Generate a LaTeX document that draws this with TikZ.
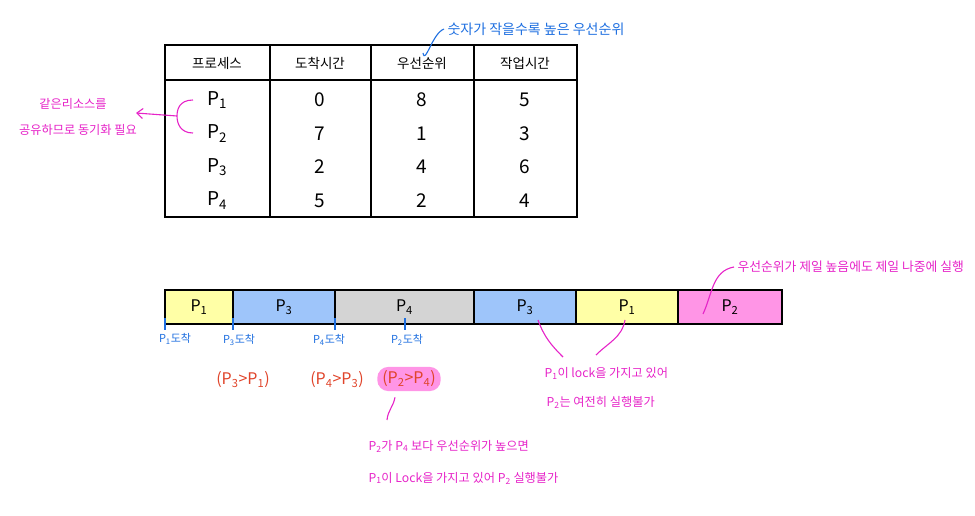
\documentclass[tikz,border=0pt]{standalone}
\usepackage{fontspec}
\newfontfamily\kr{Noto Sans CJK KR}
\usetikzlibrary{positioning,arrows.meta}
\definecolor{hlyellow}{HTML}{FFFFA6}
\definecolor{hlblue}{HTML}{9EC5FA}
\definecolor{hlgray}{HTML}{D4D4D4}
\definecolor{hlpink}{HTML}{FF95E6}
\definecolor{penmagenta}{HTML}{E623C8}
\definecolor{penblue}{HTML}{1E6FE0}
\definecolor{penred}{HTML}{E0442A}
\newcommand\Pn[1]{P\textsubscript{#1}}

\begin{document}
\begin{tikzpicture}[x=1pt, y=-1pt,
    >=latex,   % Pfeilspitzen
    font=\kr\fontsize{12}{14}\selectfont,
    head/.style={font=\kr\fontsize{13.5}{16}\selectfont},
    cell/.style={font=\kr\fontsize{19}{22}\selectfont},
    blk/.style={draw, line width=1.2pt, minimum height=34pt, inner sep=0pt, outer sep=0pt, font=\kr\fontsize{16}{18}\selectfont},
    arr/.style={text=penblue, font=\kr\fontsize{11}{13}\selectfont},
    cmp/.style={text=penred, font=\kr\fontsize{16}{18}\selectfont, inner sep=2pt},
    note/.style={text=penmagenta, font=\kr\fontsize{12.2}{15}\selectfont},
    pen/.style={line width=1.1pt}]
    \useasboundingbox (0,0) rectangle (975,516);
    % Tabelle
    \draw[line width=1.2pt] (165,45) rectangle (577,217);
    \draw[line width=1.2pt] (165,80) -- (577,80);
    \foreach \x in {270,371,474} \draw[line width=1.2pt] (\x,45) -- (\x,217);
    \node[head] (h1) at (217,63) {프로세스};
    \node[head] (h2) at (320,63) {도착시간};
    \node[head] (h3) at (422,63) {우선순위};
    \node[head] (h4) at (525,63) {작업시간};
    \foreach \p/\a/\r/\w [count=\i] in {1/0/8/5, 2/7/1/3, 3/2/4/6, 4/5/2/4} {
        \pgfmathsetmacro\y{100+(\i-1)*33.5}
        \node[cell] (p\i) at (217,\y) {\Pn{\p}};
        \node[cell] (a\i) at (320,\y) {\a};
        \node[cell] (r\i) at (422,\y) {\r};
        \node[cell] (w\i) at (525,\y) {\w};
    }
    % Hinweis oben
    \node[arr, font=\kr\fontsize{14}{16}\selectfont, anchor=west] (tip) at (444,29) {숫자가 작을수록 높은 우선순위};
    \coordinate (h3top) at (423,53);
    \draw[penblue, pen] (h3top) to[out=-80, in=200] (tip.west);
    % Hinweis links
    \node[note] (s1) at (73,104) {같은리소스를};
    \node[note] (s2) at (78,130) {공유하므로 동기화 필요};
    \coordinate (brk) at (177,116);
    \draw[penmagenta, pen] (193,100) .. controls (179,100) and (177,110) .. (brk) .. controls (177,123) and (180,133) .. (193,133);
    \draw[penmagenta, pen, -{Straight Barb[length=6pt,width=10pt]}] (brk) -- (136,113);
    % Gantt-Diagramm
    \node[blk, fill=hlyellow, minimum width=68pt, anchor=west] (g1) at (165,307) {\Pn{1}};
    \node[blk, fill=hlblue, minimum width=102pt, right=0pt of g1] (g2) {\Pn{3}};
    \node[blk, fill=hlgray, minimum width=139pt, right=0pt of g2] (g3) {\Pn{4}};
    \node[blk, fill=hlblue, minimum width=102pt, right=0pt of g3] (g4) {\Pn{3}};
    \node[blk, fill=hlyellow, minimum width=102pt, right=0pt of g4] (g5) {\Pn{1}};
    \node[blk, fill=hlpink, minimum width=104pt, right=0pt of g5] (g6) {\Pn{2}};
    % Ankunft
    \coordinate (c1) at (g1.south west);
    \coordinate (c3) at (g2.south west);
    \coordinate (c4) at (g3.south west);
    \coordinate (c2) at (405,324);
    \foreach \c in {c1,c3,c4,c2} \draw[penblue, pen] ([yshift=6pt]\c) -- ([yshift=-6pt]\c);
    \node[arr] (t1) at (175,339) {\Pn{1}도착};
    \node[arr] (t3) at (239,340) {\Pn{3}도착};
    \node[arr] (t4) at (329,340) {\Pn{4}도착};
    \node[arr] (t2) at (407,340) {\Pn{2}도착};
    % Vergleiche
    \node[cmp] (k1) at (243,380) {(\Pn{3}>\Pn{1})};
    \node[cmp] (k2) at (337,380) {(\Pn{4}>\Pn{3})};
    \node[cmp, fill=hlpink, rounded corners=11pt, inner xsep=5pt, inner ysep=4pt] (k3) at (409,379) {(\Pn{2}>\Pn{4})};
    % Beschriftung
    \node[note, anchor=west] (n1) at (365,446) {\Pn{2}가 \Pn{4} 보다 우선순위가 높으면};
    \node[note, anchor=west] (n2) at (365,478) {\Pn{1}이 Lock을 가지고 있어 \Pn{2} 실행불가};
    \coordinate (e1) at (387,420);
    \draw[penmagenta, pen] ([xshift=-14pt,yshift=-6pt]k3.south) to[out=-100, in=85] (e1);
    \node[note, anchor=west] (m1) at (541,373) {\Pn{1}이 lock을 가지고 있어};
    \node[note, anchor=west] (m2) at (543,402) {\Pn{2}는 여전히 실행불가};
    \coordinate (e2) at (563,357);
    \coordinate (e3) at (596,355);
    \draw[penmagenta, pen] ([shift={(13pt,-13pt)}]g4.center) to[out=-70, in=135] (e2);
    \draw[penmagenta, pen] ([shift={(-2pt,-13pt)}]g5.center) to[out=-100, in=45] (e3);
    \node[note, font=\kr\fontsize{12.8}{15}\selectfont, anchor=west] (q1) at (734,267) {우선순위가 제일 높음에도 제일 나중에 실행};
    \draw[penmagenta, pen] ([shift={(-27pt,-7pt)}]g6.center) to[out=65, in=190] (q1.west);
\end{tikzpicture}
\end{document}
